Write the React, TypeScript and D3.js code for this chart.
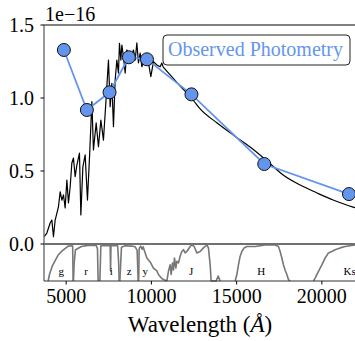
import React from 'react';
import * as d3 from 'd3';

const W = 355;
const H = 341;

// Observed spectrum (noisy part), wavelength in Å, flux in 1e-16 units
const specWave = [3710, 3868, 4061, 4161, 4255, 4355, 4548, 4648, 4748, 4842, 4941, 5041, 5135, 5235, 5334, 5428, 5528, 5628, 5780, 5862, 5980, 6115, 6249, 6380, 6508, 6601, 6760, 6895, 7036, 7188, 7346, 7481, 7581, 7681, 7775, 7874, 7974, 8068, 8127, 8209, 8267, 8361, 8461, 8561, 8655, 8754, 8948, 9048, 9147, 9241, 9341, 9441, 9634, 9828, 9968, 10121, 10321, 10514, 10614, 10690];
const specFlux = [0.05, 0.075, 0.144, 0.164, 0.05, 0.164, 0.255, 0.358, 0.30, 0.336, 0.247, 0.438, 0.281, 0.392, 0.555, 0.589, 0.461, 0.541, 0.623, 0.199, 0.529, 0.61, 0.301, 0.62, 0.975, 0.644, 0.829, 0.666, 0.849, 0.712, 1.0, 1.26, 0.94, 1.10, 0.803, 1.123, 1.26, 1.171, 1.375, 1.26, 1.363, 1.283, 1.171, 1.329, 1.308, 1.26, 1.329, 1.26, 1.377, 1.24, 1.308, 1.214, 1.283, 1.24, 1.146, 1.249, 1.226, 1.214, 1.24, 1.212];

// Smooth model continuation
const modelWave = [10690, 11687, 12450, 12861, 13857, 14796, 15794, 16791, 17729, 18726, 19723, 20662, 21835, 22540];
const modelFlux = [1.212, 1.082, 0.986, 0.925, 0.829, 0.747, 0.664, 0.568, 0.473, 0.404, 0.349, 0.301, 0.253, 0.233];

// Photometry
const photWave = [4866, 6215, 7545, 8679, 9740, 12350, 16620, 21590];
const photFlux = [1.329, 0.918, 1.039, 1.279, 1.265, 1.025, 0.548, 0.342];

const yTicks = [0, 0.5, 1.0, 1.5];
const yTickLabels = ['0.0', '0.5', '1.0', '1.5'];
const xTicks = [5000, 10000, 15000, 20000];

// Filter transmission curves [wavelength, transmission]
const gCurve = [[3944, 0], [4020, 0.18], [4138, 0.35], [4220, 0.45], [4337, 0.55], [4531, 0.72], [4725, 0.82], [4824, 0.86], [5117, 0.97], [5311, 0.98], [5380, 0.97], [5411, 0]];
const rCurve = [[5428, 0], [5469, 0.5], [5546, 0.87], [5898, 0.96], [6291, 0.99], [6760, 0.99], [6836, 0.9], [6877, 0]];
const iCurve = [[6977, 0], [7035, 0.98], [7581, 0.99], [7605, 0.28], [7628, 0.99], [8021, 0.98], [8080, 0.5], [8109, 0]];
const zCurve = [[8150, 0], [8244, 0.94], [8461, 0.98], [8830, 0.97], [9048, 0.95], [9165, 0.85], [9224, 0]];
const yCurve = [[9253, 0], [9282, 0.9], [9370, 0.97], [9458, 0.88], [9517, 0.95], [9605, 0.82], [9734, 0.64], [9927, 0.53], [10121, 0.36], [10321, 0.28], [10414, 0.18], [10573, 0.09], [10708, 0.04], [10907, 0]];
const jCurve = [[10907, 0], [11000, 0.27], [11101, 0.45], [11159, 0.18], [11235, 0.5], [11294, 0.31], [11353, 0.64], [11435, 0.36], [11494, 0.55], [11588, 0.5], [11687, 0.69], [11787, 0.82], [11881, 0.87], [11980, 0.78], [12080, 0.82], [12274, 0.96], [12373, 1.0], [12508, 0.96], [12667, 0.78], [12860, 0.82], [13054, 0.92], [13253, 1.0], [13347, 0.92], [13447, 0.45], [13506, 0], [13799, 0], [13916, 0.14], [14034, 0]];
const hCurve = [[14914, 0], [15013, 0.18], [15107, 0.45], [15207, 0.69], [15306, 0.82], [15441, 0.92], [15600, 0.96], [16086, 0.96], [16673, 1.0], [17260, 1.0], [17453, 0.96], [17553, 0.82], [17653, 0.64], [17746, 0.45], [17846, 0.3], [17946, 0.18], [18040, 0.04], [18139, 0]];
const ksCurve = [[19507, 0], [19606, 0.08], [19800, 0.27], [19900, 0.36], [19999, 0.45], [20193, 0.64], [20386, 0.78], [20586, 0.82], [20780, 0.87], [21073, 0.92], [21366, 0.96], [21953, 1.0], [22364, 1.0]];
const filterCurves = [gCurve, rCurve, iCurve, zCurve, yCurve, jCurve, hCurve, ksCurve];
const filterNames = ['g', 'r', 'i', 'z', 'y', 'J', 'H', 'Ks'];
const filterLabelWave = [4707, 6173, 7640, 8696, 9634, 12332, 16438, 21630];

const legendLabel = 'Observed Photometry';

const FONT = 'Liberation Serif';
const BLUE = '#6495ED';
const tStyle = { fontFamily: FONT };

export default function App() {
  const left = 44;
  const top = 25;
  const mainBottom = 244;
  const filtBottom = 281;
  const x = d3.scaleLinear().domain([3700, 22500]).range([left, left + 18800 * 0.017047]);
  const y = d3.scaleLinear().domain([0, 1.5]).range([mainBottom, top]);
  const yf = d3.scaleLinear().domain([0, 1]).range([filtBottom, 245]);

  const specLine = d3.line<number>().x((_, i) => x(specWave[i])).y((d) => y(d));
  const modelLine = d3.line<number>().x((_, i) => x(modelWave[i])).y((d) => y(d)).curve(d3.curveMonotoneX);
  const photLine = d3.line<number>().x((_, i) => x(photWave[i])).y((d) => y(d));
  const filtLine = d3.line<number[]>().x((d) => x(d[0])).y((d) => yf(d[1]));

  const rightEdge = W + 20;

  return (
    <svg width={W} height={H} style={{ position: 'absolute', left: 0, top: 0, background: '#fff' }}>
      <defs>
        <clipPath id="mainClip">
          <rect x={left} y={top} width={rightEdge - left} height={mainBottom - top} />
        </clipPath>
      </defs>
      {/* spectrum */}
      <g clipPath="url(#mainClip)">
        <path d={specLine(specFlux) || ''} fill="none" stroke="#000" strokeWidth={1.2} strokeLinejoin="round" />
        <path d={modelLine(modelFlux) || ''} fill="none" stroke="#000" strokeWidth={1.2} />
        <path d={photLine(photFlux) || ''} fill="none" stroke={BLUE} strokeWidth={1.8} />
        {photFlux.map((f, i) => (
          <circle key={i} cx={x(photWave[i])} cy={y(f)} r={6.5} fill={BLUE} stroke="#111" strokeWidth={1} />
        ))}
      </g>
      {/* filter curves */}
      {filterCurves.map((c, i) => (
        <path key={i} d={filtLine(c) || ''} fill="none" stroke="#777" strokeWidth={1.6} strokeLinejoin="round" />
      ))}
      {filterNames.map((n, i) => (
        <text key={n} x={x(filterLabelWave[i])} y={275} fontSize={11} textAnchor="middle" fill="#000" style={tStyle}>{n}</text>
      ))}
      {/* spines */}
      <line x1={left} x2={rightEdge} y1={top} y2={top} stroke="#000" strokeWidth={1} />
      <line x1={left} x2={left} y1={top} y2={filtBottom} stroke="#555" strokeWidth={1.2} />
      <line x1={left} x2={rightEdge} y1={mainBottom} y2={mainBottom} stroke="#707070" strokeWidth={2} />
      <line x1={left} x2={rightEdge} y1={filtBottom} y2={filtBottom} stroke="#333" strokeWidth={1.2} />
      {/* y ticks */}
      {yTicks.map((t, i) => (
        <g key={t}>
          <line x1={left - 3.5} x2={left} y1={y(t)} y2={y(t)} stroke="#000" strokeWidth={1} />
          <text x={34} y={y(t) + 7} fontSize={20} textAnchor="end" style={tStyle}>{yTickLabels[i]}</text>
        </g>
      ))}
      <text x={45} y={21} fontSize={20} style={tStyle}>1e−16</text>
      {/* x ticks */}
      {xTicks.map((t) => (
        <g key={t}>
          <line x1={x(t)} x2={x(t)} y1={filtBottom} y2={filtBottom + 3.5} stroke="#000" strokeWidth={1} />
          <text x={x(t)} y={303} fontSize={20} textAnchor="middle" style={tStyle}>{t}</text>
        </g>
      ))}
      <text x={200} y={332} fontSize={23} textAnchor="middle" style={tStyle}>
        Wavelength (<tspan fontStyle="italic">Å</tspan>)
      </text>
      {/* legend */}
      <rect x={163} y={35} width={187} height={30} rx={4} ry={4} fill="#fff" stroke="#222" strokeWidth={1} />
      <text x={168} y={56} fontSize={20} fill={BLUE} style={tStyle}>{legendLabel}</text>
    </svg>
  );
}
